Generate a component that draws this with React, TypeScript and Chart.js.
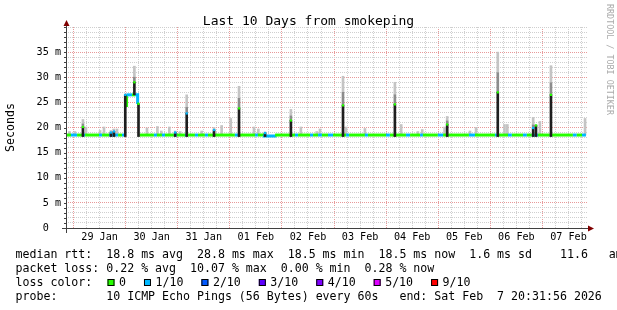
import { useEffect, useRef } from "react";
import { Chart, registerables } from "chart.js";

Chart.register(...registerables);

const MONO = "'DejaVu Sans Mono', monospace";

// ---------------- text ----------------
const chartTitle = "Last 10 Days from smokeping";
const yAxisTitle = "Seconds";
const watermark = "RRDTOOL / TOBI OETIKER";
const legendRtt = "median rtt:  18.8 ms avg  28.8 ms max  18.5 ms min  18.5 ms now  1.6 ms sd    11.6   am/s";
const legendLoss = "packet loss: 0.22 % avg  10.07 % max  0.00 % min  0.28 % now";
const legendLossTitle = "loss color:";
const legendProbe = "probe:       10 ICMP Echo Pings (56 Bytes) every 60s   end: Sat Feb  7 20:31:56 2026";

// ---------------- axes ----------------
// x = hours since Wed Jan 28 20:31:56 2026 (10 days up to Sat Feb 7 20:31:56 2026)
const spanHours = 240;
const firstMidnightHours = 3.4678; // Thu 29 Jan 00:00
const dayLabels = ["29 Jan", "30 Jan", "31 Jan", "01 Feb", "02 Feb", "03 Feb", "04 Feb", "05 Feb", "06 Feb", "07 Feb"];
const yMaxMs = 40;
const yTickLabels = [" 0  ", " 5 m", "10 m", "15 m", "20 m", "25 m", "30 m", "35 m"];

// ---------------- median rtt (ms) with loss count per segment ----------------
const medTimes = [0, 2.3, 5.1, 7.4, 8.8, 15.2, 16.6, 19.8, 22.1, 22.6, 24.0, 25.8, 27.2, 27.25,
  27.4, 27.9, 30.4, 31.8, 32.7, 33.0, 33.5, 33.55,
  33.8, 40.5, 41.9, 44.2, 45.6, 49.7, 51.1, 54.8, 55.7, 59.4, 60.8, 64.0, 65.4, 77.8, 79.2, 87.1, 88.4,
  90.7, 96.3, 105.5, 106.9, 112.4, 113.8, 116.1, 117.9, 120.7, 123.0, 129.0, 130.4, 137.7, 139.1, 147.4,
  149.2, 156.6, 158.5, 163.1, 164.4, 171.3, 173.7, 185.6, 188.4, 197.6, 198.5, 203.6, 205.4, 210.5, 212.3,
  214.6, 217.4, 222.9, 223.9, 233.5, 235.3, 237.7, 239.5];
const medValues: (number | null)[] = [18.5, 18.5, 18.5, 18.5, 18.5, 18.5, 18.5, 18.5, 18.5, 18.5, 18.5, 18.5, 18.5, null,
  24.4, 26.5, 26.5, 26.5, 26.5, 24.7, 24.7, null,
  18.5, 18.5, 18.5, 18.5, 18.5, 18.5, 18.5, 18.5, 18.5, 18.5, 18.5, 18.5, 18.5, 18.5, 18.5, 18.5, 18.5,
  18.3, 18.5, 18.5, 18.5, 18.5, 18.5, 18.5, 18.5, 18.5, 18.5, 18.5, 18.5, 18.5, 18.5, 18.5,
  18.5, 18.5, 18.5, 18.5, 18.5, 18.5, 18.5, 18.5, 18.5, 18.5, 18.5, 18.5, 18.5, 18.5, 18.5,
  18.5, 18.5, 18.5, 18.5, 18.5, 18.5, 18.5, 18.5];
const medLoss = [0, 1, 0, 1, 0, 1, 0, 1, 0, 1, 0, 1, 1, 0,
  0, 1, 0, 1, 1, 0, 0, 0,
  0, 1, 0, 1, 0, 1, 0, 1, 0, 1, 0, 1, 0, 1, 0, 1, 0,
  1, 0, 1, 0, 1, 0, 1, 0, 1, 0, 1, 0, 1, 0, 1,
  0, 1, 0, 1, 0, 1, 0, 1, 0, 1, 0, 1, 0, 1, 0,
  1, 0, 1, 0, 1, 0, 1, 1];

// ---------------- smoke (ping spread, ms) ----------------
const smokeTimes = [1.6, 4.1, 7.8, 9.2, 15.7, 17.5, 20.7, 22.1, 23.5, 27.3, 31.5, 33.4, 37.3, 42.1, 43.9, 47.6,
  50.3, 52.6, 55.6, 62.5, 68.2, 71.7, 75.9, 79.7, 86.6, 88.6, 91.7, 103.6, 108.2, 115.5, 117.0, 127.6, 129.0,
  137.7, 151.5, 154.4, 162.1, 164.1, 174.4, 175.6, 186.1, 188.9, 198.9, 202.0, 203.3, 215.2, 216.5, 218.3,
  223.4, 239.1];
const smokeMin = [18.5, 18.5, 18.2, 18.5, 18.5, 18.5, 18.2, 18.2, 18.5, 18.2, 26.5, 18.2, 18.5, 18.5, 18.5, 18.5,
  18.2, 18.5, 18.2, 18.5, 18.2, 18.5, 18.5, 18.2, 18.5, 18.5, 18.2, 18.2, 18.5, 18.5, 18.5, 18.2, 18.5,
  18.5, 18.2, 18.5, 18.5, 18.5, 18.5, 18.2, 18.5, 18.5, 18.2, 18.5, 18.5, 18.2, 18.2, 18.5,
  18.2, 18.5];
const smokeMed = [18.5, 18.5, 20.1, 18.5, 18.5, 18.5, 19.0, 19.2, 18.5, 26.5, 29.0, 24.7, 18.5, 18.5, 18.5, 18.5,
  19.0, 18.5, 22.8, 18.5, 19.5, 18.5, 18.5, 23.8, 18.5, 18.5, 18.9, 21.4, 18.5, 18.5, 18.5, 24.4, 18.5,
  18.5, 24.6, 18.5, 18.5, 18.5, 18.5, 20.6, 18.5, 18.5, 27.0, 18.5, 18.5, 19.9, 20.4, 18.5,
  26.5, 18.5];
const smokeUpper = [18.5, 18.5, 20.7, 18.5, 18.5, 18.5, 19.0, 19.2, 18.5, 26.5, 30.0, 24.7, 18.5, 18.5, 18.5, 18.5,
  19.0, 18.5, 24.0, 18.5, 19.5, 18.5, 18.5, 25.8, 18.5, 18.5, 18.9, 22.3, 18.5, 18.5, 18.5, 27.0, 18.5,
  18.5, 26.5, 18.5, 18.5, 18.5, 18.5, 21.3, 18.5, 18.5, 30.9, 18.5, 18.5, 20.5, 20.4, 18.5,
  28.9, 18.5];
const smokeMax = [19.2, 19.2, 21.6, 20.1, 19.4, 20.1, 19.4, 19.7, 19.7, 26.5, 32.2, 24.7, 19.9, 20.2, 19.3, 20.1,
  19.3, 19.2, 26.5, 19.3, 20.0, 20.4, 21.8, 28.2, 20.1, 19.7, 19.1, 23.6, 20.1, 19.2, 19.7, 30.2, 20.1,
  19.8, 29.0, 20.6, 19.2, 19.6, 20.1, 22.2, 19.3, 20.0, 35.0, 20.6, 20.6, 22.0, 20.6, 21.2,
  32.3, 21.8];
const smokeLoss = [0, 0, 0, 0, 0, 0, 1, 1, 0, 1, 0, 0, 0, 0, 0, 0,
  1, 0, 1, 0, 1, 0, 0, 0, 0, 0, 1, 0, 0, 0, 0, 0, 0,
  0, 0, 0, 0, 0, 0, 0, 0, 0, 0, 0, 0, 1, 0, 0,
  0, 0];

// ---------------- loss legend ----------------
const lossLabels = ["0", "1/10", "2/10", "3/10", "4/10", "5/10", "9/10"];
const lossColors = ["#26ff00", "#00b8ff", "#0059ff", "#5e00ff", "#7e00ff", "#dd00ff", "#ff0000"];

const GRID_MINOR = "#cfcfcf";
const GRID_MAJOR = "#e89a9a";

const decorPlugin = {
  id: "smokeDecor",
  afterDraw(chart: any) {
    const { ctx, chartArea: a, scales } = chart;
    const ys = scales.y;
    ctx.save();

    // y tick marks
    ctx.strokeStyle = "#404040";
    ctx.lineWidth = 1;
    ctx.beginPath();
    for (const t of ys.ticks) {
      const py = Math.round(ys.getPixelForValue(t.value)) + 0.5;
      ctx.moveTo(a.left - 2, py);
      ctx.lineTo(a.left, py);
    }
    ctx.stroke();

    // axes
    const ax = Math.round(a.left) + 0.5;
    const ay = Math.round(a.bottom) + 0.5;
    ctx.beginPath();
    ctx.moveTo(ax, a.top - 2);
    ctx.lineTo(ax, a.bottom + 5);
    ctx.moveTo(a.left - 4, ay);
    ctx.lineTo(a.right + 2, ay);
    ctx.stroke();

    // arrows
    ctx.fillStyle = "#800000";
    ctx.beginPath();
    ctx.moveTo(ax, a.top - 7);
    ctx.lineTo(ax - 3, a.top - 1);
    ctx.lineTo(ax + 3, a.top - 1);
    ctx.closePath();
    ctx.fill();
    ctx.beginPath();
    ctx.moveTo(a.right + 7, ay);
    ctx.lineTo(a.right + 1, ay - 3);
    ctx.lineTo(a.right + 1, ay + 3);
    ctx.closePath();
    ctx.fill();

    // title
    ctx.fillStyle = "#000";
    ctx.font = `13px ${MONO}`;
    ctx.textAlign = "center";
    ctx.textBaseline = "alphabetic";
    ctx.fillText(chartTitle, chart.width / 2, 24.5);

    // watermark
    ctx.save();
    ctx.translate(609, 4);
    ctx.rotate(Math.PI / 2);
    ctx.font = `8.4px ${MONO}`;
    ctx.fillStyle = "#aaaaaa";
    ctx.textAlign = "left";
    ctx.textBaseline = "middle";
    ctx.fillText(watermark, 0, 0);
    ctx.restore();

    // legend
    ctx.font = `11.6px ${MONO}`;
    ctx.textAlign = "left";
    ctx.textBaseline = "alphabetic";
    ctx.fillStyle = "#000";
    const lx = 15.5;
    ctx.fillText(legendRtt, lx, 258);
    ctx.fillText(legendLoss, lx, 272);
    ctx.fillText(legendLossTitle, lx, 286);
    ctx.fillText(legendProbe, lx, 300);

    let bx = 107.5;
    lossLabels.forEach((lab, i) => {
      ctx.fillStyle = lossColors[i];
      ctx.fillRect(bx, 279, 7, 7);
      ctx.strokeStyle = "#000";
      ctx.strokeRect(bx + 0.5, 279.5, 6, 6);
      ctx.fillStyle = "#000";
      const tx = bx + 11.5;
      ctx.fillText(lab, tx, 286);
      bx = tx + ctx.measureText(lab).width + 18;
    });

    ctx.restore();
  },
};

export default function App() {
  const ref = useRef<HTMLCanvasElement>(null);

  useEffect(() => {
    const canvas = ref.current;
    if (!canvas) return;

    const linePoints = medTimes.map((t, i) => ({ x: t, y: medValues[i], loss: medLoss[i] }));
    const light = smokeTimes.map((t, i) => ({ x: t, y: [Math.max(smokeMed[i], smokeUpper[i]), smokeMax[i]] }))
      .filter((p) => p.y[1] > p.y[0]);
    const mid = smokeTimes.map((t, i) => ({ x: t, y: [smokeMed[i], smokeUpper[i]] }))
      .filter((p) => p.y[1] > p.y[0]);
    const darkIdx = smokeTimes.map((_, i) => i).filter((i) => smokeMed[i] - smokeMin[i] > 0.4);
    const dark = darkIdx.map((i) => ({ x: smokeTimes[i], y: [smokeMin[i], smokeMed[i]] }));
    const dots = darkIdx.map((i) => ({ x: smokeTimes[i], y: smokeMed[i] }));
    const dotColors = darkIdx.map((i) => lossColors[smokeLoss[i]]);

    const chart = new Chart(canvas, {
      type: "bar",
      data: {
        datasets: [
          {
            type: "scatter",
            data: dots,
            pointStyle: "rect",
            pointRadius: 1.6,
            pointBorderWidth: 0,
            pointBackgroundColor: dotColors,
            order: 0,
          } as any,
          {
            type: "bar",
            data: dark,
            backgroundColor: "#1e1e1e",
            barThickness: 2,
            grouped: false,
            order: 1,
          } as any,
          {
            type: "line",
            data: linePoints,
            stepped: "before",
            borderWidth: 3,
            borderColor: lossColors[0],
            pointRadius: 0,
            spanGaps: false,
            segment: {
              borderColor: (c: any) => lossColors[medLoss[c.p0DataIndex]],
            },
            order: 2,
          } as any,
          {
            type: "bar",
            data: mid,
            backgroundColor: "#8c8c8c",
            barThickness: 2,
            grouped: false,
            order: 3,
          } as any,
          {
            type: "bar",
            data: light,
            backgroundColor: "#c4c4c4",
            barThickness: 2,
            grouped: false,
            order: 4,
          } as any,
        ],
      },
      options: {
        responsive: false,
        animation: false,
        events: [],
        devicePixelRatio: 1,
        layout: { padding: { left: 0, top: 27, right: 30, bottom: 0 }, autoPadding: false },
        plugins: { legend: { display: false }, title: { display: false }, tooltip: { enabled: false } },
        scales: {
          x: {
            type: "linear",
            min: 0,
            max: spanHours,
            offset: false,
            afterBuildTicks: (scale: any) => {
              const t: { value: number }[] = [];
              for (let h = firstMidnightHours; h <= spanHours; h += 6) t.push({ value: h });
              scale.ticks = t;
            },
            afterFit: (scale: any) => {
              scale.height = 82;
            },
            ticks: {
              autoSkip: false,
              maxRotation: 0,
              minRotation: 0,
              padding: 3,
              color: "#000",
              font: { family: MONO, size: 10.15 },
              callback: (_v: any, index: number) =>
                index % 4 === 2 ? dayLabels[(index - 2) / 4] ?? "" : "",
            },
            grid: {
              color: (c: any) => (c.index % 4 === 0 ? GRID_MAJOR : GRID_MINOR),
              drawTicks: false,
              lineWidth: 1,
              offset: false,
              borderDash: [1, 1],
            },
            border: { display: false, dash: [1, 1] },
          },
          y: {
            type: "linear",
            min: 0,
            max: yMaxMs,
            afterBuildTicks: (scale: any) => {
              const t: { value: number }[] = [];
              for (let v = 0; v <= yMaxMs; v += 1) t.push({ value: v });
              scale.ticks = t;
            },
            afterFit: (scale: any) => {
              scale.width = 66;
            },
            ticks: {
              autoSkip: false,
              padding: 5,
              color: "#000",
              font: { family: MONO, size: 10.15 },
              callback: (v: any) => {
                const n = Number(v);
                return n % 5 === 0 && n / 5 < yTickLabels.length ? yTickLabels[n / 5] : "";
              },
            },
            grid: {
              color: (c: any) => {
                const v = c.tick ? c.tick.value : 0;
                if (v === 0) return "rgba(0,0,0,0)";
                return v % 5 === 0 && v < yMaxMs ? GRID_MAJOR : GRID_MINOR;
              },
              drawTicks: false,
              lineWidth: 1,
              borderDash: [1, 1],
            },
            border: { display: false, dash: [1, 1] },
            title: {
              display: true,
              text: yAxisTitle,
              color: "#000",
              font: { family: MONO, size: 11.6 },
              padding: { top: 4, bottom: 0 },
            },
          },
        },
      } as any,
      plugins: [decorPlugin],
    });

    return () => chart.destroy();
  }, []);

  return (
    <div style={{ position: "fixed", left: 0, top: 0, width: 617, height: 310, background: "#fff" }}>
      <canvas ref={ref} width={617} height={310} style={{ width: 617, height: 310, display: "block" }} />
    </div>
  );
}
